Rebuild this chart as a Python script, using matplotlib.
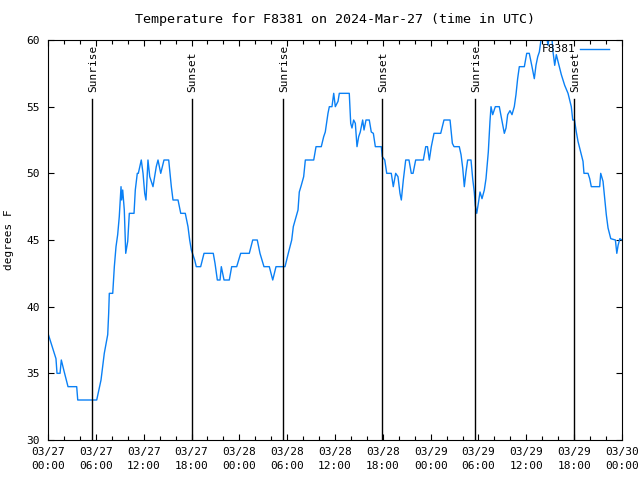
import numpy as np
import matplotlib
matplotlib.use("Agg")
import matplotlib.pyplot as plt

# hours since 2024-03-27 00:00 UTC, temperature in F
hours = [0.00, 1.00, 1.13, 1.51, 1.67, 2.04, 2.51, 3.60, 3.73, 6.11,
         6.65, 7.06, 7.49, 7.61, 7.69, 8.12, 8.32, 8.53, 8.74, 8.94,
         9.16, 9.24, 9.37, 9.57, 9.75, 10.00, 10.20, 10.79, 10.95, 11.20,
         11.33, 11.70, 11.92, 12.13, 12.29, 12.54, 12.76, 13.17, 13.58, 13.80,
         14.14, 14.55, 15.14, 15.47, 15.68, 16.31, 16.65, 17.22, 17.56, 17.77,
         17.98, 18.40, 18.60, 19.15, 19.57, 20.73, 20.95, 21.24, 21.58, 21.74,
         21.91, 22.08, 22.74, 23.04, 23.67, 24.17, 25.25, 25.68, 26.25, 26.59,
         27.09, 27.76, 28.19, 28.60, 29.73, 30.14, 30.57, 30.77, 31.36, 31.52,
         31.77, 32.07, 32.28, 33.33, 33.62, 34.28, 34.58, 34.78, 35.12, 35.29,
         35.62, 35.84, 36.04, 36.38, 36.54, 37.79, 37.97, 38.13, 38.34, 38.55,
         38.76, 38.97, 39.17, 39.47, 39.64, 39.89, 40.30, 40.55, 40.81, 41.06,
         41.81, 41.93, 42.24, 42.49, 43.06, 43.31, 43.61, 43.90, 44.15, 44.32,
         44.57, 44.87, 45.28, 45.57, 45.79, 46.12, 47.08, 47.38, 47.60, 47.83,
         48.08, 48.42, 49.26, 49.67, 50.43, 50.72, 50.93, 51.59, 51.81, 52.02,
         52.22, 52.43, 52.64, 53.06, 53.27, 53.47, 53.60, 53.78, 53.98, 54.19,
         54.44, 54.73, 54.94, 55.23, 55.44, 55.57, 55.78, 56.11, 56.61, 56.95,
         57.24, 57.45, 57.66, 57.95, 58.20, 58.49, 58.70, 58.91, 59.12, 59.75,
         60.05, 60.37, 60.71, 61.00, 61.21, 61.43, 61.63, 61.84, 62.09, 62.47,
         62.72, 62.93, 63.16, 63.35, 63.56, 63.76, 63.97, 64.39, 64.81, 65.23,
         65.64, 65.82, 66.04, 66.27, 66.48, 66.82, 67.11, 67.23, 67.74, 67.95,
         68.15, 69.20, 69.33, 69.62, 69.83, 70.03, 70.25, 70.59, 71.17, 71.35,
         71.51, 71.73, 72.00]
temps = [38.0, 36.1, 35.0, 35.0, 36.0, 35.1, 34.0, 34.0, 33.0, 33.0,
         34.5, 36.5, 37.9, 39.5, 41.0, 41.0, 43.0, 44.5, 45.4, 46.75,
         49.0, 48.0, 48.75, 47.25, 44.0, 44.9, 47.0, 47.0, 48.75, 50.0,
         50.0, 51.0, 50.0, 48.5, 48.0, 51.0, 49.75, 49.0, 50.5, 51.0,
         50.0, 51.0, 51.0, 49.0, 48.0, 48.0, 47.0, 47.0, 46.0, 45.0,
         44.25, 43.5, 43.0, 43.0, 44.0, 44.0, 43.25, 42.0, 42.0, 43.0,
         42.5, 42.0, 42.0, 43.0, 43.0, 44.0, 44.0, 45.0, 45.0, 44.0,
         43.0, 43.0, 42.0, 43.0, 43.0, 44.0, 45.0, 46.0, 47.25, 48.6,
         49.1, 49.75, 51.0, 51.0, 52.0, 52.0, 52.75, 53.1, 54.5, 55.0,
         55.0, 56.0, 55.0, 55.4, 56.0, 56.0, 53.75, 53.4, 54.0, 53.75,
         52.0, 52.75, 53.1, 54.0, 53.25, 54.0, 54.0, 53.1, 53.0, 52.0,
         52.0, 51.25, 51.0, 50.0, 50.0, 49.0, 50.0, 49.75, 48.5, 48.0,
         49.5, 51.0, 51.0, 50.0, 50.0, 51.0, 51.0, 52.0, 52.0, 51.0,
         52.0, 53.0, 53.0, 54.0, 54.0, 52.25, 52.0, 52.0, 51.4, 50.4,
         49.0, 50.1, 51.0, 51.0, 49.6, 48.6, 47.6, 47.0, 47.75, 48.6,
         48.1, 48.75, 49.6, 51.6, 53.9, 55.0, 54.4, 55.0, 55.0, 53.9,
         53.0, 53.4, 54.4, 54.7, 54.4, 55.0, 55.9, 57.1, 58.0, 58.0,
         59.0, 59.0, 58.0, 57.1, 58.1, 58.75, 59.1, 60.0, 61.0, 60.5,
         59.6, 60.5, 60.5, 59.1, 58.1, 58.9, 58.4, 57.4, 56.6, 56.0,
         55.0, 54.0, 54.0, 53.1, 52.4, 51.6, 50.9, 50.0, 50.0, 49.6,
         49.0, 49.0, 50.0, 49.4, 48.1, 46.9, 45.9, 45.1, 45.0, 44.0,
         44.6, 45.1, 45.0]

sun_hours = [5.56, 18.0, 29.52, 41.9, 53.6, 66.0]
sun_labels = ["Sunrise", "Sunset", "Sunrise", "Sunset", "Sunrise", "Sunset"]

tick_hours = list(range(0, 73, 6))
tick_labels = ["03/27\n00:00", "03/27\n06:00", "03/27\n12:00", "03/27\n18:00",
               "03/28\n00:00", "03/28\n06:00", "03/28\n12:00", "03/28\n18:00",
               "03/29\n00:00", "03/29\n06:00", "03/29\n12:00", "03/29\n18:00",
               "03/30\n00:00"]
y_ticks = [30, 35, 40, 45, 50, 55, 60]

plt.rcParams['font.family'] = 'DejaVu Sans Mono'
plt.rcParams['font.size'] = 8

fig = plt.figure(figsize=(6.4, 4.8), dpi=100)
ax = fig.add_axes([48 / 640, 40 / 480, 574 / 640, 400 / 480])

ax.plot(hours, temps, color='#0a80f5', linewidth=1.0, label='F8381')

for h, lab in zip(sun_hours, sun_labels):
    ax.axvline(h, ymin=0, ymax=(55.6 - 30) / 30, color='black', linewidth=1.0)
    ax.text(h + 0.15, 56.1, lab, rotation=90, ha='center', va='bottom')

ax.set_xlim(0, 72)
ax.set_ylim(30, 60)
ax.set_xticks(tick_hours)
ax.set_xticklabels(tick_labels, linespacing=1.55)
ax.set_xticks(np.arange(0, 73, 2), minor=True)
ax.set_yticks(y_ticks)
ax.tick_params(which='both', direction='in', top=True, right=True)
ax.tick_params(axis='x', pad=5)
ax.tick_params(axis='y', pad=6)
ax.tick_params(which='major', length=4.5, width=0.8)
ax.tick_params(which='minor', length=3, width=0.8)
for s in ax.spines.values():
    s.set_linewidth(0.8)

ax.set_ylabel('degrees F', labelpad=9)
ax.set_title('Temperature for F8381 on 2024-Mar-27 (time in UTC)', pad=12)

ax.legend(loc='upper right', bbox_to_anchor=(0.985, 1.0), frameon=False,
          markerfirst=False, handlelength=2.6, borderaxespad=0.1,
          handletextpad=0.4, borderpad=0.3)

fig.savefig('out.png', dpi=100)
